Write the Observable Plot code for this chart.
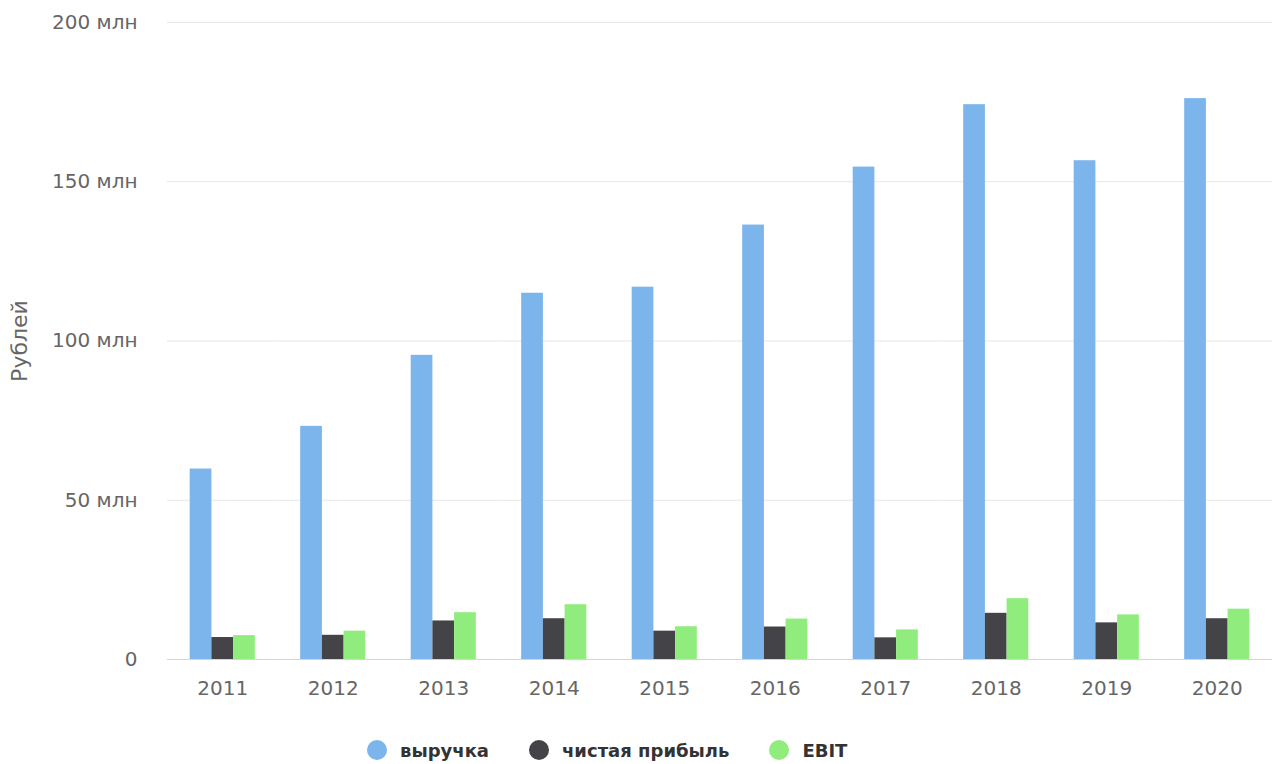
<!DOCTYPE html>
<html>
<head>
<meta charset="utf-8">
<script src="https://cdn.jsdelivr.net/npm/d3@7"></script>
<script src="https://cdn.jsdelivr.net/npm/@observablehq/plot@0.6"></script>
<style>
  html, body { margin: 0; padding: 0; background: #fff; }
  body { width: 1272px; height: 764px; overflow: hidden; font-family: "DejaVu Sans", sans-serif; }
  #legend { display: flex; align-items: center; height: 60px; margin-left: 367px; }
  .item { display: flex; align-items: center; margin-right: 40px; font-weight: bold; font-size: 18px; color: #333; }
  .dot { width: 20px; height: 20px; border-radius: 50%; margin-right: 13px; }
</style>
</head>
<body>
<div id="chart"></div>
<div id="legend"></div>
<script>
const years = ["2011", "2012", "2013", "2014", "2015", "2016", "2017", "2018", "2019", "2020"];
const seriesNames = ["выручка", "чистая прибыль", "EBIT"];
const seriesColors = ["#7cb5ec", "#434348", "#90ed7d"];
// values in millions of rubles
const revenue   = [59.8, 73.2, 95.5, 115.0, 116.9, 136.4, 154.6, 174.2, 156.6, 176.1];
const netProfit = [6.9, 7.6, 12.1, 12.8, 8.9, 10.2, 6.8, 14.5, 11.5, 12.8];
const ebit      = [7.5, 8.9, 14.7, 17.2, 10.3, 12.7, 9.3, 19.1, 14.0, 15.8];
const yTicks = [0, 50, 100, 150, 200];
const yTitle = "Рублей";

const seriesValues = [revenue, netProfit, ebit];
const data = years.flatMap((year, i) =>
  seriesNames.map((series, k) => ({year, series, value: seriesValues[k][i]}))
);

const chart = Plot.plot({
  width: 1272,
  height: 720,
  marginTop: 22,
  marginBottom: 61,
  marginLeft: 167,
  marginRight: 0,
  style: {fontFamily: "DejaVu Sans", fontSize: "20px", color: "#666", background: "#fff"},
  facet: {data, x: "year"},
  fx: {domain: years, padding: 0, round: false, axis: "bottom", tickSize: 0, tickPadding: 21, label: null},
  x: {domain: seriesNames, axis: null, round: false, paddingInner: 0, paddingOuter: 1.045},
  y: {domain: [0, 200], axis: null},
  color: {domain: seriesNames, range: seriesColors},
  marks: [
    Plot.ruleY(yTicks.filter(d => d > 0), {stroke: "#e6e6e6"}),
    Plot.barY(data, {x: "series", y: "value", fill: "series"}),
    Plot.ruleY([0], {stroke: "#ccd6eb"}),
    Plot.axisY({
      ticks: yTicks,
      tickSize: 0,
      tickPadding: 30,
      tickFormat: d => d === 0 ? "0" : `${d} млн`,
      label: null
    }),
    Plot.axisY({
      ticks: [],
      tickSize: 0,
      label: yTitle,
      labelAnchor: "center",
      labelArrow: false,
      labelOffset: 156,
      fontSize: 22
    })
  ]
});
document.getElementById("chart").appendChild(chart);

const legend = document.getElementById("legend");
seriesNames.forEach((name, k) => {
  const item = document.createElement("div");
  item.className = "item";
  const dot = document.createElement("span");
  dot.className = "dot";
  dot.style.background = seriesColors[k];
  const label = document.createElement("span");
  label.textContent = name;
  item.appendChild(dot);
  item.appendChild(label);
  legend.appendChild(item);
});
</script>
</body>
</html>
